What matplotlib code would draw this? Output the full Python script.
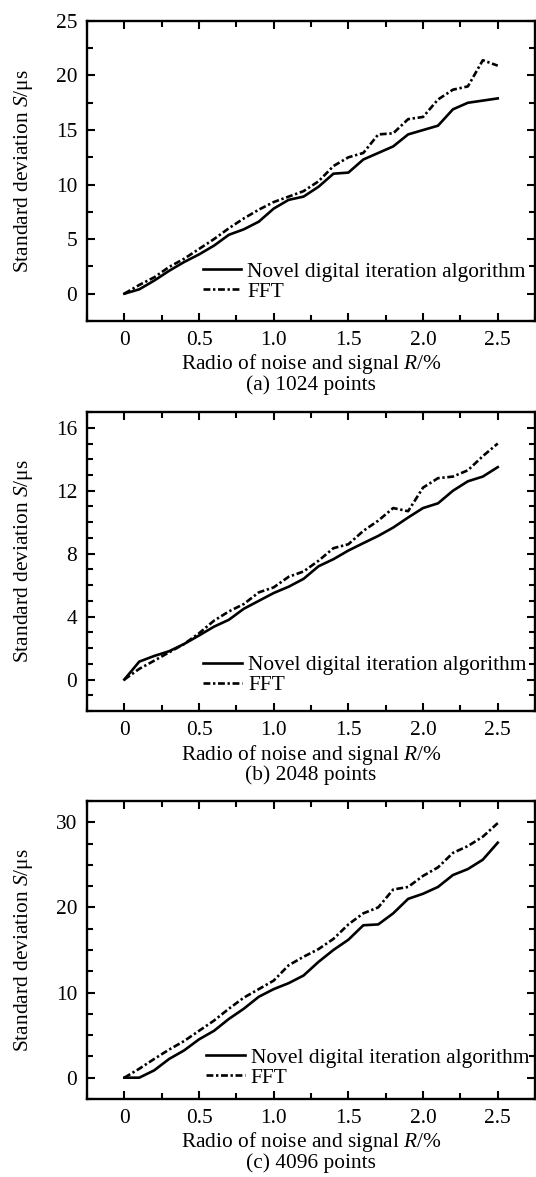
import numpy as np
import matplotlib
matplotlib.use('Agg')
import matplotlib.pyplot as plt
from matplotlib.ticker import MultipleLocator

# noise-to-signal ratio R/% (same for all three panels)
ratio = [0.0, 0.1, 0.2, 0.3, 0.4, 0.5, 0.6, 0.7, 0.8, 0.9, 1.0, 1.1, 1.2,
         1.3, 1.4, 1.5, 1.6, 1.7, 1.8, 1.9, 2.0, 2.1, 2.2, 2.3, 2.4, 2.5]

# (a) 1024 points
novel_1024 = [0.0, 0.4, 1.2, 2.1, 2.9, 3.6, 4.4, 5.4, 5.9, 6.6, 7.8, 8.6, 8.9,
              9.8, 11.0, 11.1, 12.3, 12.9, 13.5, 14.6, 15.0, 15.4, 16.9, 17.5, 17.7, 17.9]
fft_1024 = [0.0, 0.8, 1.5, 2.45, 3.2, 4.1, 5.0, 6.0, 6.9, 7.7, 8.4, 8.9, 9.4,
            10.3, 11.7, 12.5, 12.9, 14.6, 14.7, 16.0, 16.2, 17.8, 18.7, 19.0, 21.4, 20.9]

# (b) 2048 points
novel_2048 = [0.0, 1.14, 1.5, 1.8, 2.26, 2.8, 3.36, 3.8, 4.5, 5.0, 5.5, 5.9, 6.4,
              7.2, 7.65, 8.2, 8.67, 9.13, 9.66, 10.3, 10.9, 11.2, 12.0, 12.6, 12.9, 13.5]
fft_2048 = [0.0, 0.68, 1.2, 1.73, 2.26, 2.94, 3.74, 4.33, 4.8, 5.54, 5.86, 6.53, 6.87,
            7.55, 8.35, 8.6, 9.45, 10.1, 10.9, 10.7, 12.2, 12.8, 12.9, 13.3, 14.2, 15.0]

# (c) 4096 points
novel_4096 = [0.0, 0.0, 0.86, 2.2, 3.2, 4.5, 5.5, 6.9, 8.1, 9.5, 10.4, 11.1, 12.0,
              13.6, 15.0, 16.2, 17.9, 18.0, 19.3, 21.0, 21.6, 22.4, 23.8, 24.5, 25.6, 27.6]
fft_4096 = [0.0, 1.05, 2.2, 3.3, 4.3, 5.5, 6.7, 8.1, 9.4, 10.4, 11.4, 13.2, 14.2,
            15.1, 16.3, 18.0, 19.3, 20.0, 22.1, 22.4, 23.7, 24.7, 26.4, 27.2, 28.3, 29.9]

captions = ['(a) 1024 points', '(b) 2048 points', '(c) 4096 points']

plt.rcParams['font.family'] = ['Liberation Serif', 'DejaVu Serif']
plt.rcParams['mathtext.fontset'] = 'custom'
plt.rcParams['mathtext.rm'] = 'Liberation Serif'
plt.rcParams['mathtext.it'] = 'Liberation Serif:italic'
fs = 15.4

fig = plt.figure(figsize=(5.36, 11.77), dpi=100)

# axes boxes in figure fraction: left, bottom, width, height
boxes = [[0.1623, 0.7273, 0.836, 0.2549],
         [0.1623, 0.3959, 0.836, 0.2540],
         [0.1623, 0.0663, 0.836, 0.2532]]
ylims = [(-2.5, 25), (-2, 17), (-2.5, 32.5)]
ymajor = [5, 4, 10]
yminor = [2.5, 1, 2.5]
leg_pos = [(0.258, 0.13), (0.26, 0.12), (0.266, 0.104)]
series = [(novel_1024, fft_1024), (novel_2048, fft_2048), (novel_4096, fft_4096)]

for i in range(3):
    ax = fig.add_axes(boxes[i])
    novel, fft = series[i]
    ax.plot(ratio, novel, color='black', lw=1.9, ls='-',
            label='Novel digital iteration algorithm')
    ax.plot(ratio, fft, color='black', lw=1.9, ls=(0, (2.6, 1.0, 0.9, 1.0)),
            label='FFT')

    ax.set_xlim(-0.25, 2.75)
    ax.set_xticks([0, 0.5, 1.0, 1.5, 2.0, 2.5])
    ax.set_xticklabels(['0', '0.5', '1.0', '1.5', '2.0', '2.5'])
    ax.xaxis.set_minor_locator(MultipleLocator(0.25))
    ax.yaxis.set_major_locator(MultipleLocator(ymajor[i]))
    ax.yaxis.set_minor_locator(MultipleLocator(yminor[i]))
    ax.set_ylim(*ylims[i])

    ax.tick_params(which='both', direction='in', top=True, right=True,
                   labelsize=fs, width=1.5)
    ax.tick_params(which='major', length=6, pad=7)
    ax.tick_params(which='minor', length=4)
    for sp in ax.spines.values():
        sp.set_linewidth(1.7)

    ax.set_xlabel('Radio of noise and signal $R$/%', fontsize=fs, labelpad=2)
    ax.set_ylabel('Standard deviation $S$/\u03bcs', fontsize=fs)
    ax.yaxis.set_label_coords(-0.115, 0.5)
    ax.text(0.5, -0.215, captions[i], transform=ax.transAxes, fontsize=fs,
            ha='center', va='center')

    ax.legend(loc='center left', bbox_to_anchor=leg_pos[i], frameon=False,
              fontsize=fs, borderpad=0, borderaxespad=0, handlelength=1.8,
              handletextpad=0.28, labelspacing=0.0)

fig.savefig('out.png', dpi=100)
